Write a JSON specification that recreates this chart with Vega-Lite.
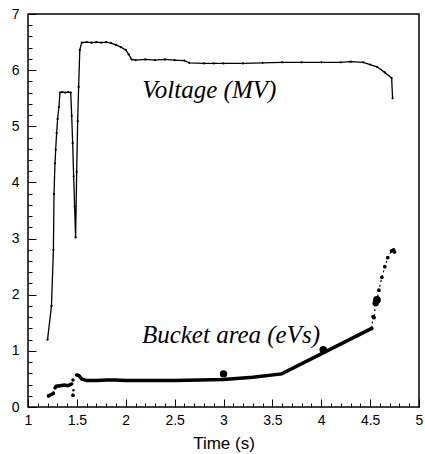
{
  "$schema": "https://vega.github.io/schema/vega-lite/v6.json",
  "width": 391,
  "height": 393,
  "autosize": {"type": "none"},
  "padding": {"left": 28, "top": 14, "right": 6, "bottom": 47},
  "background": "white",
  "config": {
    "view": {"stroke": "black", "strokeWidth": 1.5},
    "axis": {
      "labelFont": "Liberation Sans", "labelFontSize": 14, "labelColor": "black",
      "titleFont": "Liberation Sans", "titleFontSize": 17, "titleFontWeight": "normal", "titleColor": "black",
      "domain": false, "grid": false, "tickColor": "black", "tickWidth": 1,
      "labelOverlap": false, "labelFlush": false, "format": "~g"
    }
  },
  "datasets": {
    "voltage": [
      {"t": 1.20, "v": 1.20}, {"t": 1.24, "v": 1.80}, {"t": 1.26, "v": 2.80}, {"t": 1.266, "v": 3.79},
      {"t": 1.276, "v": 4.34}, {"t": 1.283, "v": 4.58}, {"t": 1.293, "v": 4.88}, {"t": 1.303, "v": 5.13},
      {"t": 1.316, "v": 5.34}, {"t": 1.327, "v": 5.60}, {"t": 1.35, "v": 5.61}, {"t": 1.38, "v": 5.60},
      {"t": 1.41, "v": 5.61}, {"t": 1.437, "v": 5.60}, {"t": 1.447, "v": 5.19}, {"t": 1.457, "v": 4.70},
      {"t": 1.467, "v": 4.11}, {"t": 1.477, "v": 3.57}, {"t": 1.487, "v": 3.02}, {"t": 1.498, "v": 4.19},
      {"t": 1.508, "v": 5.09}, {"t": 1.518, "v": 5.70}, {"t": 1.53, "v": 6.36}, {"t": 1.55, "v": 6.49},
      {"t": 1.6, "v": 6.50}, {"t": 1.65, "v": 6.49}, {"t": 1.7, "v": 6.50}, {"t": 1.75, "v": 6.49},
      {"t": 1.8, "v": 6.50}, {"t": 1.85, "v": 6.48}, {"t": 1.9, "v": 6.45}, {"t": 1.95, "v": 6.41},
      {"t": 2.0, "v": 6.36}, {"t": 2.03, "v": 6.28}, {"t": 2.06, "v": 6.19}, {"t": 2.1, "v": 6.18},
      {"t": 2.2, "v": 6.19}, {"t": 2.3, "v": 6.18}, {"t": 2.4, "v": 6.19}, {"t": 2.5, "v": 6.18},
      {"t": 2.6, "v": 6.17}, {"t": 2.65, "v": 6.13}, {"t": 2.8, "v": 6.12}, {"t": 2.9, "v": 6.12},
      {"t": 3.0, "v": 6.12}, {"t": 3.2, "v": 6.12}, {"t": 3.4, "v": 6.13}, {"t": 3.6, "v": 6.14},
      {"t": 3.8, "v": 6.14}, {"t": 4.0, "v": 6.14}, {"t": 4.2, "v": 6.14}, {"t": 4.3, "v": 6.15},
      {"t": 4.43, "v": 6.14}, {"t": 4.5, "v": 6.10}, {"t": 4.57, "v": 6.06}, {"t": 4.65, "v": 5.96},
      {"t": 4.72, "v": 5.86}, {"t": 4.73, "v": 5.50}
    ],
    "bucket": [
      {"t": 1.21, "a": 0.20, "seg": "s1"}, {"t": 1.26, "a": 0.24, "seg": "s1"},
      {"t": 1.276, "a": 0.34, "seg": "s2"}, {"t": 1.29, "a": 0.37, "seg": "s2"}, {"t": 1.33, "a": 0.38, "seg": "s2"},
      {"t": 1.37, "a": 0.39, "seg": "s2"}, {"t": 1.41, "a": 0.38, "seg": "s2"}, {"t": 1.447, "a": 0.41, "seg": "s2"},
      {"t": 1.498, "a": 0.57, "seg": "main"}, {"t": 1.52, "a": 0.56, "seg": "main"}, {"t": 1.55, "a": 0.50, "seg": "main"},
      {"t": 1.6, "a": 0.47, "seg": "main"}, {"t": 1.7, "a": 0.47, "seg": "main"}, {"t": 1.8, "a": 0.48, "seg": "main"},
      {"t": 1.9, "a": 0.48, "seg": "main"}, {"t": 2.0, "a": 0.47, "seg": "main"}, {"t": 2.2, "a": 0.47, "seg": "main"},
      {"t": 2.5, "a": 0.47, "seg": "main"}, {"t": 2.76, "a": 0.48, "seg": "main"}, {"t": 3.0, "a": 0.49, "seg": "main"},
      {"t": 3.3, "a": 0.53, "seg": "main"}, {"t": 3.595, "a": 0.59, "seg": "main"}, {"t": 4.516, "a": 1.40, "seg": "main"}
    ],
    "tail": [
      {"t": 4.516, "a": 1.40}, {"t": 4.53, "a": 1.61}, {"t": 4.54, "a": 1.59}, {"t": 4.557, "a": 1.88},
      {"t": 4.57, "a": 1.91}, {"t": 4.59, "a": 2.08}, {"t": 4.62, "a": 2.31}, {"t": 4.65, "a": 2.50},
      {"t": 4.68, "a": 2.66}, {"t": 4.72, "a": 2.78}, {"t": 4.74, "a": 2.80}, {"t": 4.75, "a": 2.76}
    ],
    "dots": [
      {"t": 3.0, "a": 0.59, "s": 55}, {"t": 4.02, "a": 1.02, "s": 55}, {"t": 4.57, "a": 1.91, "s": 60},
      {"t": 4.557, "a": 1.85, "s": 40}, {"t": 1.46, "a": 0.48, "s": 12}, {"t": 1.46, "a": 0.21, "s": 14},
      {"t": 1.465, "a": 0.30, "s": 6}, {"t": 1.21, "a": 0.20, "s": 14}, {"t": 1.26, "a": 0.25, "s": 12}
    ],
    "labels": [
      {"t": 2.17, "y": 5.50, "txt": "Voltage (MV)"},
      {"t": 2.165, "y": 1.14, "txt": "Bucket area (eVs)"}
    ]
  },
  "layer": [
    {
      "data": {"name": "voltage"},
      "mark": {"type": "line", "color": "black", "strokeWidth": 1.3, "point": {"filled": true, "size": 5, "color": "black"}},
      "encoding": {
        "x": {
          "field": "t", "type": "quantitative",
          "scale": {"domain": [1, 5], "nice": false, "zero": false},
          "axis": {
            "title": "Time (s)", "titlePadding": 4, "tickCount": 500,
            "values": [1,1.1,1.2,1.3,1.4,1.5,1.6,1.7,1.8,1.9,2,2.1,2.2,2.3,2.4,2.5,2.6,2.7,2.8,2.9,3,3.1,3.2,3.3,3.4,3.5,3.6,3.7,3.8,3.9,4,4.1,4.2,4.3,4.4,4.5,4.6,4.7,4.8,4.9,5],
            "labelExpr": "round(datum.value*10)%5==0 ? datum.label : ''",
            "tickSize": {"condition": {"test": "round(datum.value*10)%5==0", "value": -8}, "value": -4},
            "labelPadding": 14
          }
        },
        "y": {
          "field": "v", "type": "quantitative",
          "scale": {"domain": [0, 7], "nice": false},
          "axis": {
            "title": null, "tickCount": 500,
            "values": [0,0.2,0.4,0.6,0.8,1,1.2,1.4,1.6,1.8,2,2.2,2.4,2.6,2.8,3,3.2,3.4,3.6,3.8,4,4.2,4.4,4.6,4.8,5,5.2,5.4,5.6,5.8,6,6.2,6.4,6.6,6.8,7],
            "labelExpr": "round(datum.value*5)%5==0 ? datum.label : ''",
            "tickSize": {"condition": {"test": "round(datum.value*5)%5==0", "value": -8}, "value": -4},
            "labelPadding": 17
          }
        }
      }
    },
    {
      "data": {"name": "bucket"},
      "mark": {"type": "line", "color": "black", "strokeWidth": 3.5, "strokeCap": "round"},
      "encoding": {
        "x": {"field": "t", "type": "quantitative"},
        "y": {"field": "a", "type": "quantitative"},
        "detail": {"field": "seg"}
      }
    },
    {
      "data": {"name": "tail"},
      "mark": {"type": "line", "color": "black", "strokeWidth": 1.2, "strokeDash": [2, 3]},
      "encoding": {
        "x": {"field": "t", "type": "quantitative"},
        "y": {"field": "a", "type": "quantitative"}
      }
    },
    {
      "data": {"name": "tail"},
      "mark": {"type": "point", "filled": true, "color": "black", "size": 14, "opacity": 1},
      "encoding": {
        "x": {"field": "t", "type": "quantitative"},
        "y": {"field": "a", "type": "quantitative"}
      }
    },
    {
      "data": {"name": "dots"},
      "mark": {"type": "point", "filled": true, "color": "black", "opacity": 1},
      "encoding": {
        "x": {"field": "t", "type": "quantitative"},
        "y": {"field": "a", "type": "quantitative"},
        "size": {"field": "s", "type": "quantitative", "scale": null, "legend": null}
      }
    },
    {
      "data": {"name": "labels"},
      "mark": {"type": "text", "font": "Liberation Serif", "fontStyle": "italic", "fontSize": 25, "align": "left", "baseline": "alphabetic", "color": "black"},
      "encoding": {
        "x": {"field": "t", "type": "quantitative"},
        "y": {"field": "y", "type": "quantitative"},
        "text": {"field": "txt"}
      }
    }
  ]
}
